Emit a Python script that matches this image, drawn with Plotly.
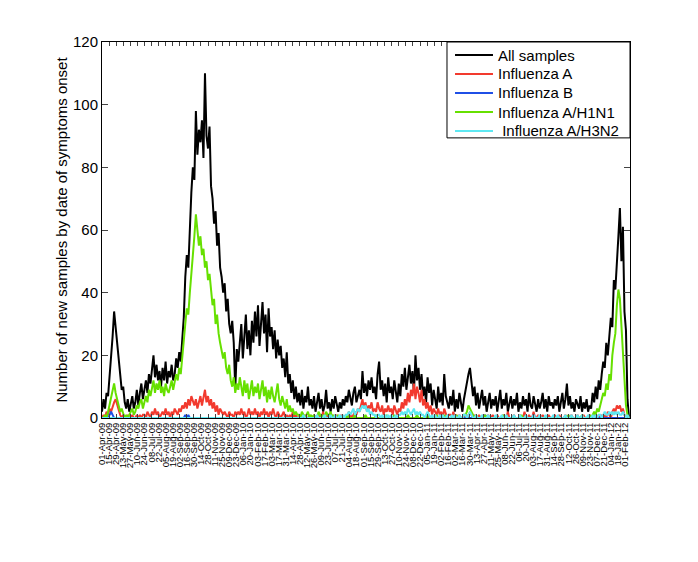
import pandas as pd
import plotly.graph_objects as go

# ---------------- data (values read every 3 days, starting 01-Apr-2009) ----------------
start_date = "2009-04-01"
step_days = 3

all_samples = [
    2, 6, 3, 8, 7, 13, 18, 26, 34, 29,
    24, 17, 12, 9, 10, 5, 3, 6, 2, 4,
    7, 3, 5, 9, 4, 8, 11, 6, 9, 12,
    8, 14, 11, 16, 20, 13, 17, 12, 15, 10,
    16, 12, 18, 11, 15, 13, 17, 12, 14, 19,
    16, 21, 18, 25, 32, 45, 52, 48, 62, 72,
    80, 76, 98, 84, 92, 88, 95, 83, 110, 90,
    86, 93, 74, 70, 62, 66, 55, 59, 48, 45,
    40, 43, 34, 38, 30, 27, 31, 24, 9, 22,
    18, 25, 30, 19, 27, 33, 22, 28, 20, 31,
    24, 34, 26, 36, 23, 30, 37, 27, 33, 21,
    35, 26, 29, 22, 28, 19, 25, 20, 23, 16,
    19, 13, 21, 11, 14, 8, 12, 6, 10, 5,
    8, 4, 9, 3, 7, 5, 10, 4, 6, 3,
    7, 2, 5, 8, 3, 6, 2, 4, 9, 3,
    5, 2, 6, 3, 7, 4, 2, 5, 3, 6,
    4, 7, 5, 9, 6, 4, 8, 10, 5, 7,
    9, 6, 15, 8, 11, 7, 12, 9, 13, 8,
    10, 6, 14, 18, 9, 12, 7, 11, 5, 13,
    8, 10, 6, 12, 9, 5, 11, 7, 14, 10,
    16, 9, 13, 17, 11, 15, 8, 20, 12, 16,
    9, 14, 7, 10, 5, 13, 8, 11, 4, 9,
    6, 3, 10, 5, 8, 4, 14, 7, 5, 3,
    7, 4, 9, 2, 6, 3, 8, 5, 2, 6,
    9, 12, 14, 16, 11, 7, 10, 4, 8, 3,
    6, 9, 4, 7, 2, 5, 8, 3, 6, 4,
    7, 2, 5, 9, 3, 6, 4, 8, 2, 5,
    7, 3, 6, 4, 8, 2, 5, 3, 7, 4,
    6, 2, 8, 4, 3, 7, 5, 2, 6, 3,
    5, 8, 3, 6, 2, 7, 4, 5, 3, 6,
    4, 7, 2, 5, 8, 3, 6, 11, 4, 7,
    3, 5, 2, 6, 4, 3, 7, 2, 5, 3,
    6, 2, 4, 3, 8, 5, 10, 6, 12, 9,
    14, 18, 16, 24, 20, 27, 32, 29, 44, 41,
    52, 58, 67, 50, 61, 34, 28, 6, 0,
]

influenza_a = [
    0, 1, 0, 2, 1, 3, 2, 4, 5, 6,
    4, 2, 1, 0, 1, 0, 0, 1, 0, 0,
    1, 0, 0, 1, 0, 1, 0, 1, 1, 0,
    2, 1, 0, 2, 1, 3, 1, 2, 0, 1,
    2, 1, 3, 1, 2, 0, 2, 1, 3, 2,
    1, 3, 2, 4, 3, 5, 3, 6, 4, 7,
    5, 4, 6, 3, 5, 7, 4, 6, 9, 5,
    7, 4, 6, 3, 5, 2, 4, 1, 3, 2,
    1, 2, 1, 0, 2, 1, 1, 0, 2, 1,
    2, 1, 3, 1, 2, 0, 1, 3, 1, 2,
    1, 3, 1, 2, 0, 2, 1, 3, 1, 2,
    0, 2, 1, 3, 1, 0, 2, 1, 0, 1,
    2, 0, 1, 0, 1, 0, 2, 0, 1, 0,
    0, 1, 0, 0, 1, 0, 0, 1, 0, 0,
    1, 0, 0, 1, 0, 0, 2, 0, 0, 1,
    0, 0, 1, 0, 0, 1, 0, 0, 1, 0,
    0, 1, 0, 2, 1, 0, 1, 2, 1, 3,
    2, 4, 6, 3, 5, 2, 4, 3, 5, 2,
    3, 2, 5, 3, 2, 4, 1, 3, 2, 4,
    2, 3, 1, 4, 2, 1, 3, 2, 5, 3,
    6, 4, 8, 5, 9, 7, 11, 6, 10, 8,
    5, 9, 4, 6, 3, 5, 2, 4, 1, 3,
    2, 1, 3, 1, 2, 0, 3, 1, 0, 1,
    1, 0, 2, 0, 1, 0, 1, 0, 0, 1,
    0, 1, 0, 2, 1, 0, 1, 0, 0, 1,
    0, 0, 1, 0, 0, 1, 0, 0, 1, 0,
    0, 1, 0, 0, 0, 1, 0, 0, 2, 0,
    0, 0, 1, 0, 0, 0, 1, 0, 0, 2,
    0, 0, 1, 0, 0, 2, 0, 0, 1, 0,
    0, 1, 0, 0, 0, 1, 0, 0, 0, 1,
    0, 0, 1, 0, 0, 0, 1, 0, 0, 0,
    1, 0, 0, 0, 1, 0, 0, 0, 1, 0,
    0, 0, 1, 0, 0, 1, 0, 0, 1, 0,
    1, 0, 1, 0, 2, 1, 0, 2, 3, 2,
    4, 3, 4, 2, 3, 1, 0, 0, 0,
]

influenza_b = [
    0, 0, 0, 0, 0, 1, 2, 1, 0, 0,
    0, 0, 0, 0, 0, 0, 0, 0, 0, 0,
    0, 0, 0, 0, 0, 0, 0, 0, 0, 0,
    0, 0, 0, 0, 0, 0, 0, 0, 0, 0,
    0, 0, 0, 0, 0, 0, 0, 0, 0, 0,
    0, 0, 0, 0, 0, 1, 0, 1, 0, 0,
    0, 0, 0, 0, 0, 0, 0, 0, 0, 0,
    0, 0, 0, 0, 0, 0, 0, 0, 0, 0,
    0, 0, 0, 0, 0, 0, 0, 0, 0, 0,
    0, 0, 0, 0, 0, 0, 0, 0, 0, 0,
    0, 0, 0, 0, 0, 0, 0, 0, 0, 0,
    0, 0, 0, 0, 0, 0, 0, 0, 0, 0,
    0, 0, 0, 0, 0, 0, 0, 0, 0, 0,
    0, 0, 0, 0, 0, 0, 0, 0, 0, 0,
    0, 0, 0, 0, 0, 0, 0, 0, 0, 0,
    0, 0, 0, 0, 0, 0, 0, 0, 0, 0,
    0, 0, 0, 0, 0, 0, 0, 0, 0, 0,
    0, 0, 0, 0, 0, 0, 0, 0, 0, 0,
    0, 0, 0, 0, 0, 0, 0, 0, 0, 0,
    0, 0, 0, 0, 0, 0, 0, 0, 0, 0,
    0, 0, 0, 0, 0, 0, 0, 0, 0, 0,
    0, 0, 0, 0, 0, 1, 0, 0, 0, 0,
    0, 0, 0, 0, 0, 0, 0, 0, 0, 0,
    0, 0, 0, 0, 0, 0, 0, 0, 0, 0,
    0, 0, 0, 0, 0, 0, 0, 0, 0, 0,
    0, 0, 0, 1, 0, 0, 0, 0, 0, 0,
    0, 0, 0, 0, 0, 0, 0, 0, 0, 0,
    0, 0, 0, 0, 0, 0, 0, 0, 0, 0,
    0, 0, 0, 0, 0, 1, 0, 0, 0, 0,
    0, 0, 0, 0, 0, 0, 0, 0, 0, 0,
    0, 0, 0, 0, 0, 0, 0, 0, 0, 0,
    0, 0, 0, 0, 0, 0, 0, 0, 0, 0,
    0, 0, 0, 0, 0, 0, 0, 0, 0, 0,
    0, 0, 0, 0, 0, 0, 0, 0, 0, 0,
    0, 0, 0, 0, 0, 0, 0, 0, 0,
]

influenza_h1n1 = [
    0, 0, 1, 0, 2, 4, 7, 9, 11, 8,
    6, 4, 2, 3, 1, 0, 1, 0, 1, 2,
    3, 1, 2, 4, 3, 5, 6, 3, 5, 7,
    5, 9, 7, 10, 12, 8, 11, 9, 12, 8,
    10, 7, 11, 9, 8, 10, 12, 9, 11, 14,
    12, 16, 14, 20, 24, 30, 35, 33, 40, 45,
    52, 58, 65, 60, 55, 58, 52, 54, 48, 50,
    44, 46, 40, 36, 38, 30, 33, 27, 24, 22,
    19, 21, 16, 14, 17, 12, 10, 13, 8, 11,
    9, 13, 10, 7, 12, 8, 11, 6, 9, 12,
    7, 10, 8, 11, 6, 9, 12, 7, 10, 5,
    9, 6, 10, 7, 5, 8, 11, 6, 4, 7,
    5, 3, 6, 2, 4, 2, 3, 1, 2, 1,
    1, 0, 2, 1, 0, 1, 2, 0, 1, 0,
    1, 0, 0, 2, 1, 0, 1, 0, 2, 1,
    1, 2, 0, 1, 0, 0, 1, 0, 0, 0,
    0, 0, 1, 0, 0, 0, 0, 1, 0, 0,
    0, 0, 0, 0, 1, 0, 0, 0, 0, 0,
    0, 1, 0, 0, 0, 0, 0, 0, 1, 0,
    0, 0, 0, 1, 0, 0, 0, 0, 0, 0,
    0, 0, 1, 0, 0, 0, 0, 0, 1, 0,
    0, 0, 0, 0, 0, 1, 0, 0, 0, 0,
    0, 1, 0, 0, 0, 0, 1, 0, 0, 0,
    0, 0, 0, 0, 1, 0, 0, 0, 0, 1,
    1, 2, 4, 3, 2, 1, 0, 1, 0, 0,
    0, 0, 0, 1, 0, 0, 0, 0, 0, 0,
    0, 0, 0, 0, 0, 1, 0, 0, 0, 0,
    0, 0, 0, 0, 0, 0, 0, 1, 0, 0,
    0, 0, 0, 0, 0, 0, 0, 0, 0, 0,
    0, 0, 0, 0, 0, 0, 0, 0, 0, 0,
    0, 0, 0, 0, 0, 0, 0, 0, 1, 0,
    0, 0, 0, 0, 0, 0, 0, 1, 0, 0,
    0, 0, 1, 0, 1, 2, 1, 3, 2, 4,
    5, 8, 7, 11, 9, 14, 12, 20, 24, 27,
    36, 41, 38, 30, 22, 12, 4, 1, 0,
]

influenza_h3n2 = [
    0, 0, 0, 0, 0, 0, 0, 0, 0, 0,
    0, 0, 0, 0, 0, 0, 0, 0, 0, 0,
    0, 0, 0, 0, 0, 0, 0, 0, 0, 0,
    0, 0, 0, 0, 0, 0, 0, 0, 0, 0,
    0, 0, 0, 0, 0, 0, 0, 0, 0, 0,
    0, 0, 0, 0, 0, 0, 0, 0, 0, 0,
    0, 0, 0, 0, 0, 0, 0, 0, 0, 0,
    0, 0, 0, 0, 0, 0, 0, 0, 0, 0,
    0, 0, 0, 0, 0, 0, 0, 0, 0, 0,
    0, 0, 0, 0, 0, 0, 0, 0, 0, 0,
    0, 0, 0, 0, 0, 0, 0, 0, 0, 0,
    0, 0, 0, 0, 0, 0, 0, 0, 0, 0,
    0, 0, 0, 0, 0, 0, 0, 0, 0, 0,
    0, 0, 0, 1, 0, 0, 0, 0, 0, 0,
    0, 0, 1, 0, 0, 0, 0, 1, 0, 0,
    0, 1, 0, 0, 1, 0, 0, 1, 0, 1,
    0, 1, 1, 2, 1, 2, 3, 1, 2, 3,
    2, 3, 4, 3, 4, 2, 3, 1, 2, 1,
    1, 0, 1, 1, 0, 1, 0, 1, 0, 1,
    0, 1, 0, 0, 1, 0, 1, 1, 2, 1,
    2, 1, 3, 2, 1, 2, 3, 1, 2, 1,
    2, 1, 1, 0, 1, 2, 1, 0, 1, 0,
    1, 0, 0, 1, 0, 1, 0, 0, 1, 0,
    0, 1, 0, 1, 0, 0, 1, 0, 0, 1,
    1, 0, 1, 2, 1, 0, 0, 1, 0, 0,
    0, 1, 0, 0, 0, 1, 0, 0, 0, 0,
    1, 0, 0, 0, 1, 0, 0, 1, 0, 0,
    0, 0, 1, 0, 0, 0, 1, 0, 0, 0,
    1, 0, 0, 0, 0, 1, 0, 0, 0, 1,
    0, 0, 0, 1, 0, 0, 0, 0, 1, 0,
    0, 1, 0, 0, 0, 0, 1, 0, 0, 0,
    1, 0, 0, 0, 1, 0, 0, 1, 0, 0,
    0, 1, 0, 0, 1, 0, 1, 0, 1, 1,
    0, 1, 2, 1, 1, 2, 1, 2, 1, 2,
    1, 2, 1, 1, 2, 1, 0, 1, 0,
]

series_names = ["All samples", "Influenza A", "Influenza B", "Influenza A/H1N1", " Influenza A/H3N2"]
series_colors = ["#000000", "#f23a2e", "#1f4fe6", "#66e000", "#5ee8f2"]

# tick labels every 14 days from 01-Apr-09 to 01-Feb-12
tick_dates = pd.date_range("2009-04-01", "2012-02-01", freq="14D")
tick_labels = [d.strftime("%d-%b-%y") for d in tick_dates]
x_range = ["2009-04-01", "2012-02-11"]


def dates_for(values):
    return pd.date_range(start_date, periods=len(values), freq=f"{step_days}D")


fig = go.Figure()
for name, vals, col in zip(series_names,
                           [all_samples, influenza_a, influenza_b, influenza_h1n1, influenza_h3n2],
                           series_colors):
    fig.add_trace(go.Scatter(x=dates_for(vals), y=vals, mode="lines", name=name,
                             line=dict(color=col, width=2), showlegend=False))

font_family = "Liberation Sans, Arial, Helvetica, sans-serif"

# ---- MATLAB-style legend box (drawn in paper coordinates) ----
leg_x0, leg_x1, leg_y0, leg_y1 = 0.6534, 1.0, 0.745, 1.0
leg_line_x0, leg_line_x1, leg_text_x = 0.6686, 0.7405, 0.7462
leg_rows = [0.9654, 0.9149, 0.8644, 0.8138, 0.7633]

shapes = [dict(type="rect", xref="paper", yref="paper", x0=leg_x0, x1=leg_x1,
               y0=leg_y0, y1=leg_y1, line=dict(color="black", width=1),
               fillcolor="white", layer="above")]
annotations = []
for name, col, yy in zip(series_names, series_colors, leg_rows):
    shapes.append(dict(type="line", xref="paper", yref="paper", x0=leg_line_x0, x1=leg_line_x1,
                       y0=yy, y1=yy, line=dict(color=col, width=2), layer="above"))
    annotations.append(dict(xref="paper", yref="paper", x=leg_text_x, y=yy,
                            text=name.replace(" ", "&nbsp;", 1) if name.startswith(" ") else name,
                            showarrow=False, xanchor="left", yanchor="middle",
                            font=dict(size=15, family=font_family, color="black")))

fig.update_layout(
    width=698, height=562,
    margin=dict(l=94, r=76, t=34, b=152),
    paper_bgcolor="white", plot_bgcolor="white",
    font=dict(family=font_family, color="black", size=15),
    showlegend=False,
    shapes=shapes,
    annotations=annotations,
    xaxis=dict(type="date", range=x_range, tickmode="array",
               tickvals=tick_dates, ticktext=tick_labels, tickangle=-90,
               tickfont=dict(size=9.5), ticks="inside", ticklen=4,
               showline=True, linecolor="black", linewidth=1, mirror="ticks",
               showgrid=False, zeroline=False),
    yaxis=dict(range=[0, 120], tickmode="array", tickvals=[0, 20, 40, 60, 80, 100, 120],
               ticks="inside", ticklen=6, tickfont=dict(size=15),
               showline=True, linecolor="black", linewidth=1, mirror="ticks",
               showgrid=False, zeroline=False,
               title=dict(text="Number of new samples by date of symptoms onset",
                          font=dict(size=15), standoff=1)),
)

fig.write_html("out.html")
